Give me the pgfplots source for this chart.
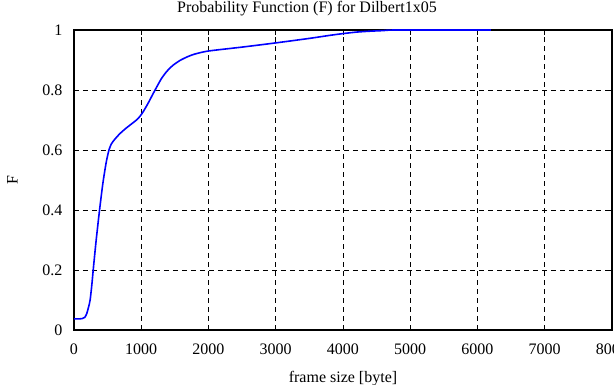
\documentclass[border=0pt]{standalone}
\usepackage{pgfplots}
\pgfplotsset{compat=1.18}
\usepackage{fontspec}
\setmainfont{Liberation Serif}
\begin{document}
\fontsize{16}{19}\selectfont
\begin{tikzpicture}
\begin{axis}[
  at={(0,0)}, anchor=south west,
  scale only axis, width=538pt, height=300pt,
  xmin=0, xmax=8000, ymin=0, ymax=1,
  xtick={0,1000,...,8000}, ytick={0,0.2,...,1},
  /pgf/number format/assume math mode=true,
  /pgf/number format/1000 sep={},
  yticklabel style={/pgf/number format/fixed,/pgf/number format/precision=1, xshift=-6pt},
  xticklabel style={yshift=-8pt},
  tick align=inside, major tick length=5pt,
  tick style={black, line width=0.9pt},
  axis line style={line width=1.7pt},
  grid=major,
  major grid style={black, line width=0.7pt, dash pattern=on 5pt off 4pt},
  title={Probability Function (F) for Dilbert1x05},
  title style={at={(0.5,1)}, anchor=south, yshift=3pt, xshift=-36pt, font=\fontsize{16}{19}\selectfont},
  xlabel={frame size [byte]},
  ylabel={F},
  label style={font=\fontsize{16}{19}\selectfont},
  xlabel style={yshift=-6pt},
  ylabel style={yshift=14pt},
  tick label style={font=\fontsize{16}{19}\selectfont},
]
\addplot[blue, line width=1.6pt, smooth, tension=0.4] coordinates {
(0,0.037) (60,0.037) (120,0.038) (160,0.042) (190,0.055) (215,0.075)
(240,0.10) (265,0.15) (290,0.21) (330,0.30) (380,0.40) (430,0.49)
(480,0.56) (520,0.60) (555,0.620) (600,0.634) (680,0.654) (760,0.670)
(850,0.686) (930,0.700) (980,0.712) (1030,0.728) (1100,0.755) (1170,0.785)
(1230,0.810) (1300,0.838) (1380,0.862) (1470,0.882) (1580,0.899) (1700,0.912)
(1800,0.920) (2000,0.930) (2500,0.943) (3000,0.957) (3500,0.972) (3800,0.982)
(4000,0.988) (4200,0.993) (4400,0.996) (4600,0.998) (4800,1.0) (6200,1.0)
};
\end{axis}
\pgfresetboundingbox
\useasboundingbox (-74pt,-55pt) rectangle (540pt,330pt);
\end{tikzpicture}
\end{document}
